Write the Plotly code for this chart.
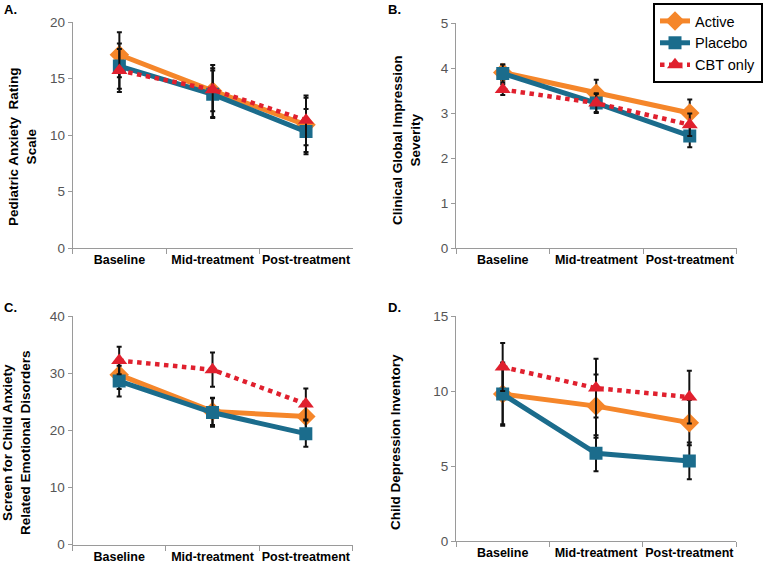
import plotly.graph_objects as go

W, H = 764, 568

categories = ["Baseline", "Mid-treatment", "Post-treatment"]
series_names = ["Active", "Placebo", "CBT only"]

# Panel A: Pediatric Anxiety Rating Scale
a_active = [17.1, 13.9, 10.9]
a_active_err = [2.0, 2.3, 2.4]
a_placebo = [16.1, 13.6, 10.3]
a_placebo_err = [2.0, 2.1, 2.0]
a_cbt = [15.7, 14.0, 11.3]
a_cbt_err = [1.9, 1.9, 2.2]

# Panel B: Clinical Global Impression Severity
b_active = [3.9, 3.44, 3.0]
b_active_err = [0.18, 0.3, 0.3]
b_placebo = [3.88, 3.22, 2.49]
b_placebo_err = [0.2, 0.22, 0.25]
b_cbt = [3.52, 3.22, 2.74]
b_cbt_err = [0.12, 0.2, 0.25]

# Panel C: SCARED
c_active = [29.7, 23.3, 22.4]
c_active_err = [2.5, 2.4, 2.3]
c_placebo = [28.6, 23.1, 19.4]
c_placebo_err = [2.7, 2.5, 2.3]
c_cbt = [32.2, 30.6, 24.6]
c_cbt_err = [2.4, 3.0, 2.7]

# Panel D: Child Depression Inventory
d_active = [9.8, 9.0, 7.9]
d_active_err = [2.0, 2.1, 1.5]
d_placebo = [9.8, 5.86, 5.35]
d_placebo_err = [2.1, 1.2, 1.22]
d_cbt = [11.6, 10.2, 9.6]
d_cbt_err = [1.6, 1.95, 1.76]

panel_letters = ["A.", "B.", "C.", "D."]
y_titles = [
    "Pediatric Anxiety  Rating<br>Scale",
    "Clinical Global Impression<br>Severity",
    "Screen for Child Anxiety<br>Related Emotional Disorders",
    "Child Depression Inventory",
]
y_ranges = [[0, 20], [0, 5], [0, 40], [0, 15]]
y_dticks = [5, 1, 10, 5]

panels = [
    (a_active, a_active_err, a_placebo, a_placebo_err, a_cbt, a_cbt_err),
    (b_active, b_active_err, b_placebo, b_placebo_err, b_cbt, b_cbt_err),
    (c_active, c_active_err, c_placebo, c_placebo_err, c_cbt, c_cbt_err),
    (d_active, d_active_err, d_placebo, d_placebo_err, d_cbt, d_cbt_err),
]

ORANGE = "#F5862A"
BLUE = "#1B6C8C"
RED = "#E0202E"

styles = [
    dict(color=ORANGE, symbol="diamond", size=15, dash="solid", width=5),
    dict(color=BLUE, symbol="square", size=13, dash="solid", width=5),
    dict(color=RED, symbol="triangle-up", size=14, dash="dot", width=4.5),
]

# pixel boxes: (x0, x1, ytop, ybottom)
boxes = [
    (72.7, 352.7, 22, 248),
    (456, 736.5, 23, 248),
    (72.5, 352.5, 316, 544.5),
    (456, 736, 316, 541.3),
]

def px_x(x):
    return x / W

def px_y(y):
    return 1 - y / H

FONT = "Liberation Sans, Arial, sans-serif"

fig = go.Figure()

for i, data in enumerate(panels):
    xa = "x" if i == 0 else f"x{i+1}"
    ya = "y" if i == 0 else f"y{i+1}"
    vals = [data[0], data[2], data[4]]
    errs = [data[1], data[3], data[5]]
    for s in range(3):
        st = styles[s]
        fig.add_trace(go.Scatter(
            x=categories, y=vals[s], xaxis=xa, yaxis=ya,
            mode="lines+markers", name=series_names[s],
            showlegend=(i == 1),
            line=dict(color=st["color"], width=st["width"], dash=st["dash"]),
            marker=dict(symbol=st["symbol"], size=st["size"], color=st["color"],
                        line=dict(width=0)),
            error_y=dict(type="data", array=errs[s], visible=True,
                         color="#111111", thickness=2, width=2.5),
        ))

layout = dict(
    width=W, height=H,
    margin=dict(l=0, r=0, t=0, b=0, autoexpand=False),
    paper_bgcolor="white", plot_bgcolor="white",
    font=dict(family=FONT, color="#000000"),
    showlegend=True,
    hovermode=False,
    legend=dict(
        x=px_x(653), y=px_y(3), xanchor="left", yanchor="top",
        bordercolor="#000000", borderwidth=2, bgcolor="white",
        font=dict(size=14.5, color="#000000", family=FONT),
        itemwidth=30, tracegroupgap=0,
    ),
)

annotations = []
for i in range(4):
    x0, x1, yt, yb = boxes[i]
    xk = "xaxis" if i == 0 else f"xaxis{i+1}"
    yk = "yaxis" if i == 0 else f"yaxis{i+1}"
    ya_anchor = "y" if i == 0 else f"y{i+1}"
    xa_anchor = "x" if i == 0 else f"x{i+1}"
    layout[xk] = dict(
        domain=[px_x(x0), px_x(x1)], anchor=ya_anchor,
        type="category", tickson="boundaries",
        showline=True, linecolor="#9a9a9a", linewidth=1,
        ticks="outside", ticklen=5, tickcolor="#9a9a9a",
        showgrid=False, zeroline=False, automargin=False,
        range=[-0.5, 2.5], tickangle=0,
        tickfont=dict(size=12.5, color="#000000", family=FONT, weight="bold"),
    )
    layout[yk] = dict(
        domain=[px_y(yb), px_y(yt)], anchor=xa_anchor,
        range=y_ranges[i], dtick=y_dticks[i], tick0=0,
        showline=True, linecolor="#9a9a9a", linewidth=1,
        ticks="outside", ticklen=4, tickcolor="#9a9a9a",
        showgrid=False, zeroline=False, automargin=False,
        tickfont=dict(size=13.5, color="#555555", family=FONT),
    )

letter_pos = [(2, 10), (386, 10), (2, 307), (386, 307)]
for (lx, ly), t in zip(letter_pos, panel_letters):
    annotations.append(dict(
        x=px_x(lx), y=px_y(ly), xref="paper", yref="paper",
        xanchor="left", yanchor="middle", showarrow=False,
        text=f"<b>{t}</b>", font=dict(size=13, color="#000000"),
    ))

title_pos = [(22, 147), (406, 140), (16, 443), (395, 442)]
for (tx, ty), t in zip(title_pos, y_titles):
    annotations.append(dict(
        x=px_x(tx), y=px_y(ty), xref="paper", yref="paper",
        xanchor="center", yanchor="middle", showarrow=False,
        textangle=-90, text=f"<b>{t}</b>",
        font=dict(size=13.5, color="#000000"),
    ))

layout["annotations"] = annotations
fig.update_layout(**layout)

fig.write_html(
    "out.html",
    config={"displayModeBar": False, "staticPlot": True},
    post_script="document.body.style.margin='0';document.body.style.overflow='hidden';",
)
